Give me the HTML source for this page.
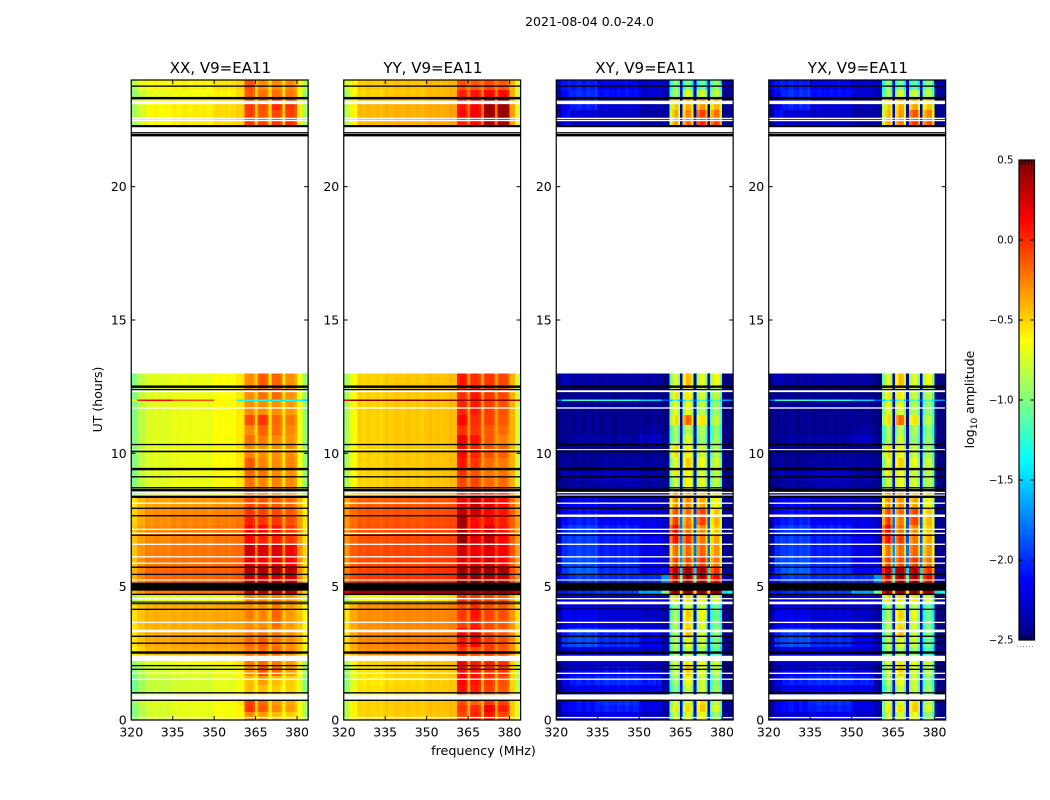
<!DOCTYPE html>
<html lang="en">
<head>
<meta charset="utf-8">
<title>2021-08-04 0.0-24.0</title>
<style>
html,body{margin:0;padding:0;background:#fff;width:1050px;height:800px;overflow:hidden}
svg{display:block;font-family:"DejaVu Sans","Liberation Sans",sans-serif;fill:#000}
</style>
</head>
<body>
<svg id="chart" xmlns="http://www.w3.org/2000/svg" width="1050" height="800" viewBox="0 0 1050 800">
  <rect x="0" y="0" width="1050" height="800" fill="#fff"/>
  <text x="589.5" y="26" font-size="12.5" text-anchor="middle">2021-08-04 0.0-24.0</text>
  <text x="0" y="0" font-size="12.5" text-anchor="middle" transform="translate(102,399.5) rotate(-90)">UT (hours)</text>
  <text x="483.5" y="755" font-size="12.7" text-anchor="middle">frequency (MHz)</text>
  <text x="0" y="0" font-size="12.5" text-anchor="middle" transform="translate(974,399.5) rotate(-90)">log<tspan font-size="9" dy="3">10</tspan><tspan dy="-3"> amplitude</tspan></text>
  <g id="panels"></g>
  <g id="colorbar"></g>
</svg>
<script>
// ---- axis data ----
const panelTitles = ["XX, V9=EA11", "YY, V9=EA11", "XY, V9=EA11", "YX, V9=EA11"];
const xTicks = [320, 335, 350, 365, 380];
const yTicks = [0, 5, 10, 15, 20];
const colorbarTicks = [-2.5, -2.0, -1.5, -1.0, -0.5, 0.0, 0.5];
const colorbarLabels = ["\u22122.5", "\u22122.0", "\u22121.5", "\u22121.0", "\u22120.5", "0.0", "0.5"];
// column edges (MHz)
const freqEdges = [320, 322, 325, 335, 350, 358, 361, 364.7, 365.7, 369.7, 370.7, 374.7, 375.7, 380, 382, 384];
// row edges (UT hours)
const timeEdges = [0, .30, .56, .94, 1.31, 1.65, 2.06, 2.44, 2.74, 3.07, 3.45, 3.82, 4.16, 4.39, 4.69, 5.14, 5.44, 5.74, 6.15, 6.56, 6.94, 7.31, 7.61, 7.95, 8.36, 8.62, 9.07, 9.45, 9.82, 10.31, 10.69, 11.06, 11.44, 11.96, 12.02, 12.45, 13, 22.3, 22.57, 22.87, 23.32, 23.62, 24];
// flagged lines: [UT hour, thickness in hours]
const blackFlags = [[23.77,.05],[23.32,.09],[22.27,.08],[22.02,.05],[21.93,.09],[12.5,.09],[12.39,.05],[10.33,.05],[10.07,.06],[9.41,.09],[9.12,.05],[8.71,.05],[8.62,.09],[8.37,.09],[7.94,.05],[6.93,.05],[5.73,.05],[5.46,.05],[5,.3],[4.71,.05],[4.15,.05],[3.14,.05],[2.88,.05],[2.53,.09],[2.04,.05],[1.9,.05],[1.02,.05],[.74,.05]];
const parallelBlackFlags = [[7.66,.05],[4.42,.04],[4.36,.04]];
const whiteFlags = [[23.16,.13],[22.56,.05],[22.48,.05],[12.335,.08],[11.7,.05],[10.14,.04],[8.53,.05],[8.43,.05],[8.13,.05],[7.15,.05],[7.0,.05],[6.59,.05],[6.12,.05],[5.88,.05],[5.25,.04],[4.55,.05],[3.66,.05],[3.34,.1],[2.31,.2],[1.75,.05],[1.53,.05],[.86,.2],[.09,.05]];
const crossWhiteFlags = [[7.66,.09],[4.39,.1]];

// ---- per-channel (1 MHz) bandpass offsets, channels 320..383 ----
const parallelBandpass = [0,0,0,.01,-.02,.02,0,-.02,.02,.02,-.01,0,.02,-.02,.01,.02,-.01,-.02,.01,.02,0,-.02,.01,.02,0,-.01,.02,0,-.02,.01,0,.02,-.01,0,.01,-.02,.01,0,.01,-.01,0,0,.03,.03,-.06,-.06,.02,.03,.02,-.06,-.06,.02,.03,.02,-.06,-.06,.02,.03,.02,-.06,0,0,0,0];
const crossBandpass = [-.1,-.05,-.1,-.14,-.06,-.1,-.14,-.08,-.05,-.12,-.14,-.06,-.1,-.12,-.04,-.1,-.14,-.08,-.06,-.12,-.1,-.14,-.06,-.1,-.12,-.04,-.1,-.14,-.08,-.1,-.06,-.12,-.14,-.08,-.1,-.06,-.12,-.1,-.08,-.1,-.1,-.35,-.05,.05,-.3,-.3,-.1,.1,.05,-.3,-.3,-.1,.05,.05,-.3,-.3,-.1,.05,.05,-.3,-.05,-.05,-.05,-.05];
const panelBandpass = [parallelBandpass, parallelBandpass, crossBandpass, crossBandpass];

// ---- log10 amplitude: rows bottom to top, one value per frequency column ----
const xxValues = [
[-1,-.85,-.75,-.7,-.65,-.6,-.3,-.5,-.35,-.55,-.45,-.55,-.5,-.65,-.9],
[-1,-.85,-.75,-.7,-.65,-.6,-.05,-.45,-.15,-.5,-.3,-.55,-.35,-.65,-.9],
[-.95,-.8,-.72,-.68,-.62,-.55,-.08,-.45,-.2,-.5,-.35,-.5,-.4,-.6,-.85],
[-1.05,-.9,-.8,-.75,-.7,-.65,-.45,-.55,-.45,-.6,-.5,-.6,-.5,-.7,-1],
[-1.05,-.9,-.8,-.75,-.7,-.65,-.45,-.55,-.35,-.6,-.45,-.6,-.5,-.7,-1],
[-1,-.85,-.75,-.72,-.68,-.6,-.3,-.5,-.12,-.55,-.2,-.55,-.35,-.65,-.95],
[-.95,-.8,-.7,-.65,-.6,-.55,-.25,-.45,-.2,-.5,-.25,-.5,-.35,-.6,-.9],
[-.6,-.5,-.42,-.4,-.38,-.35,-.25,-.35,-.2,-.38,-.2,-.38,-.3,-.45,-.7],
[-.55,-.45,-.38,-.35,-.33,-.32,-.2,-.3,-.15,-.35,-.25,-.35,-.3,-.42,-.65],
[-.55,-.45,-.38,-.36,-.35,-.33,-.25,-.3,-.22,-.35,-.25,-.35,-.32,-.42,-.65],
[-.55,-.45,-.4,-.38,-.36,-.35,-.3,-.35,-.3,-.38,-.22,-.38,-.35,-.45,-.65],
[-.55,-.45,-.4,-.38,-.36,-.35,-.25,-.35,-.28,-.4,-.18,-.4,-.35,-.45,-.65],
[-.55,-.45,-.4,-.38,-.36,-.35,-.32,-.38,-.32,-.4,-.25,-.4,-.35,-.45,-.65],
[-.85,-.75,-.7,-.68,-.62,-.55,-.3,-.4,-.3,-.42,-.3,-.42,-.35,-.5,-.75],
[-.4,-.3,-.22,-.2,-.18,-.15,.32,-.25,.3,-.25,.3,-.25,.32,-.3,-.5],
[-.4,-.28,-.2,-.18,-.16,-.12,.28,-.2,.25,-.2,.25,-.2,.25,-.28,-.5],
[-.4,-.28,-.18,-.16,-.15,-.12,.35,-.2,.36,-.2,.36,-.2,.32,-.28,-.5],
[-.45,-.3,-.22,-.2,-.18,-.15,.18,-.2,.12,-.22,.15,-.22,.1,-.3,-.5],
[-.45,-.32,-.25,-.22,-.2,-.18,.25,-.2,.22,-.22,.2,-.22,.12,-.3,-.5],
[-.45,-.34,-.28,-.25,-.22,-.2,.1,-.22,.02,-.25,.02,-.25,-.05,-.32,-.55],
[-.45,-.34,-.28,-.25,-.22,-.2,.1,-.22,.08,-.25,.05,-.25,-.05,-.32,-.55],
[-.5,-.38,-.3,-.27,-.25,-.22,.02,-.25,-.05,-.28,-.05,-.28,-.12,-.35,-.55],
[-.5,-.38,-.3,-.28,-.26,-.24,-.05,-.28,-.08,-.3,-.1,-.3,-.15,-.38,-.6],
[-.55,-.42,-.36,-.33,-.3,-.28,-.1,-.3,-.12,-.32,-.15,-.32,-.2,-.4,-.6],
[-.95,-.8,-.72,-.68,-.62,-.55,-.2,-.45,-.25,-.5,-.3,-.5,-.35,-.65,-.95],
[-1,-.82,-.72,-.68,-.62,-.55,-.22,-.45,-.28,-.5,-.28,-.5,-.3,-.65,-.95],
[-1,-.82,-.72,-.68,-.62,-.55,-.2,-.45,-.22,-.5,-.3,-.5,-.32,-.65,-.95],
[-1,-.82,-.72,-.68,-.63,-.56,-.15,-.45,-.28,-.5,-.3,-.5,-.28,-.65,-.95],
[-1,-.82,-.72,-.68,-.63,-.56,-.28,-.45,-.32,-.5,-.32,-.5,-.3,-.65,-.95],
[-1,-.82,-.72,-.68,-.63,-.56,-.22,-.45,-.25,-.5,-.3,-.5,-.32,-.65,-.95],
[-1,-.82,-.72,-.68,-.63,-.56,-.3,-.45,-.18,-.5,-.22,-.5,-.3,-.65,-.95],
[-1,-.82,-.72,-.68,-.63,-.56,-.12,-.45,-.05,-.5,-.2,-.5,-.25,-.65,-.95],
[-1,-.82,-.72,-.68,-.63,-.56,-.3,-.45,-.3,-.5,-.32,-.5,-.35,-.65,-.95],
[-.7,.05,.12,-.1,-.6,-1.3,-1.35,-1.3,-1.35,-1.4,-1.35,-1.4,-1.35,-1.35,-1.5],
[-1,-.82,-.72,-.68,-.63,-.56,-.3,-.45,-.22,-.5,-.2,-.5,-.32,-.65,-.95],
[-1,-.82,-.72,-.68,-.63,-.56,-.3,-.45,-.15,-.5,-.18,-.5,-.32,-.65,-.95],
[],
[-.9,-.75,-.62,-.58,-.52,-.48,-.05,-.42,-.08,-.45,-.05,-.45,-.02,-.58,-.9],
[-.9,-.75,-.62,-.58,-.52,-.48,-.08,-.42,-.15,-.45,-.1,-.45,-.08,-.58,-.9],
[-.9,-.75,-.62,-.58,-.52,-.48,-.05,-.42,-.12,-.45,-.02,-.45,-.05,-.58,-.9],
[-.95,-.8,-.7,-.66,-.6,-.52,-.15,-.45,-.22,-.48,-.22,-.48,-.25,-.62,-.95],
[-.85,-.7,-.62,-.6,-.55,-.5,-.12,-.45,-.3,-.48,-.3,-.48,-.3,-.58,-.85]
];
const yyValues = [
[-.85,-.6,-.5,-.48,-.45,-.42,-.1,-.3,0,-.35,.05,-.35,-.1,-.48,-.7],
[-.85,-.6,-.5,-.47,-.44,-.42,-.05,-.3,-.02,-.32,.15,-.32,.02,-.48,-.7],
[-.85,-.6,-.5,-.47,-.44,-.42,-.12,-.3,-.18,-.32,-.05,-.32,-.08,-.48,-.7],
[-.95,-.7,-.55,-.5,-.47,-.45,.08,-.3,.02,-.35,-.08,-.35,-.15,-.5,-.8],
[-1,-.72,-.57,-.52,-.48,-.45,.12,-.3,.05,-.35,-.05,-.35,-.12,-.5,-.85],
[-.95,-.7,-.55,-.5,-.47,-.45,.08,-.3,.05,-.35,-.02,-.35,-.05,-.5,-.8],
[-.85,-.62,-.5,-.47,-.45,-.43,.12,-.3,.02,-.32,.02,-.32,-.05,-.48,-.75],
[-.55,-.4,-.3,-.28,-.26,-.25,-.05,-.2,-.12,-.22,-.08,-.22,-.15,-.3,-.55],
[-.55,-.38,-.28,-.26,-.25,-.24,.05,-.15,.1,-.2,-.05,-.2,-.12,-.3,-.55],
[-.55,-.38,-.28,-.26,-.25,-.24,.12,-.15,.18,-.2,-.08,-.2,-.15,-.3,-.55],
[-.55,-.38,-.3,-.28,-.27,-.25,-.08,-.2,.02,-.22,-.1,-.22,-.15,-.32,-.55],
[-.55,-.38,-.3,-.28,-.27,-.25,-.05,-.2,.06,-.22,-.08,-.22,-.12,-.32,-.55],
[-.55,-.4,-.3,-.28,-.27,-.25,-.12,-.2,-.02,-.22,-.12,-.22,-.15,-.32,-.55],
[-.85,-.7,-.62,-.6,-.55,-.5,-.05,-.22,-.05,-.25,-.1,-.25,-.15,-.4,-.7],
[.2,.38,.42,.42,.42,.42,.45,.4,.45,.4,.45,.4,.45,.4,.3],
[-.2,-.1,-.05,-.03,-.02,0,.38,.05,.42,.05,.38,.05,.3,-.1,-.3],
[-.25,-.12,-.08,-.05,-.02,0,.4,.05,.42,.05,.42,.05,.38,-.1,-.3],
[-.3,-.15,-.1,-.08,-.06,-.04,.2,0,.18,.02,.25,.02,.1,-.12,-.35],
[-.3,-.15,-.1,-.08,-.06,-.04,.25,0,.15,.02,.2,.02,.12,-.12,-.35],
[-.3,-.18,-.12,-.1,-.08,-.06,.42,.02,.2,.02,.3,.02,.1,-.15,-.35],
[-.3,-.18,-.12,-.1,-.08,-.06,.35,.02,.1,.02,.22,.02,.05,-.15,-.35],
[-.32,-.2,-.14,-.12,-.1,-.08,.38,0,.08,0,.08,0,.02,-.15,-.35],
[-.32,-.2,-.14,-.12,-.1,-.08,.3,0,.25,0,.12,0,.05,-.15,-.38],
[-.35,-.22,-.16,-.14,-.12,-.1,.15,0,.28,-.02,.18,-.02,.08,-.18,-.38],
[-.7,-.55,-.45,-.42,-.4,-.38,.05,-.12,.05,-.15,.02,-.15,.0,-.35,-.6],
[-.9,-.65,-.5,-.47,-.45,-.42,-.1,-.25,-.1,-.28,-.2,-.28,-.2,-.4,-.75],
[-.9,-.65,-.5,-.47,-.45,-.42,-.03,-.25,-.13,-.28,-.23,-.28,-.23,-.4,-.75],
[-.9,-.65,-.5,-.47,-.45,-.42,.05,-.25,-.05,-.28,-.2,-.28,-.25,-.4,-.75],
[-.9,-.65,-.5,-.47,-.45,-.42,.1,-.25,0,-.28,-.13,-.28,-.17,-.4,-.75],
[-.9,-.65,-.5,-.47,-.45,-.42,.15,-.25,.05,-.28,-.15,-.28,-.27,-.4,-.75],
[-.9,-.65,-.5,-.47,-.45,-.42,-.03,-.25,-.05,-.28,-.15,-.28,-.2,-.4,-.75],
[-.9,-.65,-.5,-.47,-.45,-.42,.1,-.25,-.03,-.28,-.07,-.28,-.15,-.4,-.75],
[-.9,-.65,-.5,-.47,-.45,-.42,0,-.25,.03,-.28,-.07,-.28,-.13,-.4,-.75],
[.2,.42,.45,.45,.45,.45,.45,.45,.45,.45,.45,.45,.45,.45,.3],
[-.9,-.65,-.5,-.47,-.45,-.42,-.03,-.25,.05,-.28,-.05,-.28,-.1,-.4,-.75],
[-.9,-.65,-.5,-.47,-.45,-.42,.05,-.25,-.03,-.28,-.05,-.28,-.1,-.4,-.75],
[],
[-.85,-.6,-.42,-.4,-.38,-.35,.02,-.15,.1,-.15,.35,-.15,.35,-.35,-.7],
[-.85,-.6,-.42,-.4,-.38,-.35,.1,-.15,.15,-.15,.4,-.15,.42,-.35,-.7],
[-.85,-.6,-.42,-.4,-.38,-.35,.05,-.15,.12,-.15,.38,-.15,.4,-.35,-.7],
[-.9,-.65,-.5,-.46,-.42,-.4,.02,-.18,.05,-.18,.1,-.18,.08,-.4,-.75],
[-.75,-.6,-.48,-.45,-.42,-.4,-.12,-.2,-.15,-.2,-.1,-.2,-.15,-.4,-.7]
];
const xyValues = [
[-2.35,-2.2,-2.15,-2.1,-2.2,-2.3,-.75,-1.85,-.8,-1.95,-.7,-1.9,-.95,-2.4,-2.4],
[-2.35,-2.05,-2.0,-1.95,-2.1,-2.25,-.6,-1.85,-.6,-1.95,-.5,-1.9,-.75,-2.4,-2.4],
[-2.35,-2.1,-2.0,-1.9,-2.1,-2.25,-.7,-1.85,-.8,-1.95,-.55,-1.9,-.85,-2.4,-2.4],
[-2.4,-2.2,-2.1,-2.05,-2.1,-2.3,-.95,-1.9,-.85,-2.0,-.8,-1.95,-.95,-2.45,-2.45],
[-2.4,-2.1,-1.95,-1.9,-1.95,-2.3,-.85,-1.9,-.7,-2.0,-.8,-1.95,-1.0,-2.45,-2.45],
[-2.4,-2.15,-2.05,-2.0,-2.1,-2.3,-.75,-1.9,-.55,-2.0,-.75,-1.95,-.85,-2.45,-2.45],
[-2.4,-2.2,-2.15,-2.15,-2.2,-2.3,-.7,-1.9,-.65,-2.0,-.7,-1.95,-.8,-2.45,-2.45],
[-2.4,-2.2,-2.15,-2.15,-2.2,-2.3,-.85,-1.9,-.9,-2.0,-.95,-1.95,-1.15,-2.45,-2.45],
[-2.3,-1.85,-1.8,-1.9,-2.05,-2.25,-.8,-1.85,-.75,-1.95,-.8,-1.9,-1.05,-2.45,-2.45],
[-2.3,-1.95,-1.85,-1.95,-2.05,-2.25,-.85,-1.85,-.5,-1.95,-.8,-1.9,-1.0,-2.45,-2.45],
[-2.35,-2.1,-2.05,-2.15,-2.2,-2.3,-.8,-1.9,-.6,-2.0,-.75,-1.9,-1.05,-2.45,-2.45],
[-2.35,-2.05,-2.1,-2.15,-2.2,-2.3,-.85,-1.9,-.55,-2.0,-.7,-1.9,-1.1,-2.45,-2.45],
[-2.35,-2.1,-2.15,-2.2,-2.2,-2.3,-.9,-1.9,-.85,-2.0,-.85,-1.9,-1.1,-2.45,-2.45],
[-2.3,-2.1,-2.1,-2.15,-2.1,-2.2,-.55,-1.8,-.6,-1.9,-.6,-1.85,-.75,-2.4,-2.4],
[-2.0,-1.95,-1.9,-1.85,-1.55,-.95,.5,-.3,.5,-.3,.5,-.3,.5,-1.4,-1.3],
[-2.05,-1.95,-1.85,-1.9,-1.9,-1.6,.25,-.8,.35,-.85,.35,-.9,.1,-2.3,-2.4],
[-2.2,-1.85,-1.75,-1.9,-2.05,-2.0,.35,-1.2,.37,-1.2,.35,-1.2,-.05,-2.4,-2.4],
[-2.3,-1.8,-1.8,-1.9,-2.05,-2.15,-.05,-1.4,-.15,-1.5,-.05,-1.5,-.25,-2.4,-2.4],
[-2.3,-1.9,-1.85,-1.95,-2.1,-2.2,-.2,-1.4,-.25,-1.5,-.2,-1.5,-.35,-2.4,-2.4],
[-2.3,-1.85,-1.85,-1.95,-2.05,-2.2,.1,-1.5,-.1,-1.6,-.25,-1.6,-.4,-2.4,-2.4],
[-2.3,-1.9,-1.85,-1.95,-2.05,-2.2,.15,-1.5,-.25,-1.6,-.3,-1.6,-.5,-2.4,-2.4],
[-2.3,-2.0,-1.95,-2.05,-2.1,-2.2,-.05,-1.5,-.3,-1.6,-.1,-1.6,-.45,-2.4,-2.4],
[-2.3,-2.05,-2.0,-2.1,-2.15,-2.25,-.1,-1.6,-.25,-1.7,-.1,-1.7,-.5,-2.4,-2.4],
[-2.3,-2.1,-2.05,-2.15,-2.2,-2.3,-.3,-1.7,-.35,-1.8,-.4,-1.8,-.65,-2.4,-2.4],
[-2.4,-2.35,-2.3,-2.3,-2.3,-2.35,-.3,-1.9,-.45,-1.95,-.5,-1.95,-.55,-2.45,-2.45],
[-2.4,-2.35,-2.3,-2.25,-2.3,-2.35,-.75,-2.05,-.7,-2.1,-.75,-2.05,-.85,-2.45,-2.45],
[-2.4,-2.2,-2.25,-2.2,-2.3,-2.35,-.6,-2.05,-.7,-2.1,-.8,-2.05,-.85,-2.45,-2.45],
[-2.4,-2.3,-2.35,-2.3,-2.3,-2.35,-.7,-2.05,-.55,-2.1,-.7,-2.05,-.8,-2.45,-2.45],
[-2.4,-2.35,-2.35,-2.35,-2.35,-2.4,-.55,-2.05,-.7,-2.1,-.8,-2.05,-.9,-2.45,-2.45],
[-2.4,-2.35,-2.3,-2.3,-2.2,-2.35,-.85,-2.05,-.8,-2.1,-.95,-2.05,-.95,-2.45,-2.45],
[-2.4,-2.35,-2.35,-2.35,-2.3,-2.4,-.85,-2.05,-.9,-2.1,-.9,-2.05,-1.0,-2.45,-2.45],
[-2.4,-2.35,-2.35,-2.35,-2.35,-2.4,-.55,-2.05,-.25,-2.1,-.6,-2.05,-.85,-2.45,-2.45],
[-2.4,-2.35,-2.35,-2.35,-2.35,-2.4,-.65,-2.05,-.75,-2.1,-.85,-2.05,-.95,-2.45,-2.45],
[-1.8,-1.2,-1.1,-1.2,-1.4,-1.8,-1.2,-1.6,-1.2,-1.6,-1.2,-1.6,-1.2,-1.6,-1.7],
[-2.4,-2.35,-2.35,-2.35,-2.35,-2.4,-.6,-2.05,-.65,-2.1,-.8,-2.05,-.85,-2.45,-2.45],
[-2.4,-2.2,-2.3,-2.3,-2.3,-2.4,-.7,-2.05,-.5,-2.1,-.75,-2.05,-.7,-2.45,-2.45],
[],
[-2.35,-2.1,-2.2,-2.2,-2.3,-2.3,-.35,-2.0,-.25,-2.05,.0,-2.05,-.1,-2.4,-2.4],
[-2.35,-2.0,-2.15,-2.2,-2.3,-2.3,-.4,-2.0,-.35,-2.05,-.1,-2.05,-.25,-2.4,-2.4],
[-2.35,-2.1,-1.95,-2.15,-2.25,-2.3,-.5,-2.0,-.45,-2.05,-.35,-2.05,-.45,-2.4,-2.4],
[-2.3,-2.0,-1.9,-2.0,-2.15,-2.25,-.85,-2.0,-.8,-2.05,-.8,-2.05,-.85,-2.4,-2.4],
[-2.1,-1.95,-1.95,-2.05,-2.15,-2.2,-.95,-1.9,-1.1,-1.95,-1.15,-1.95,-1.0,-2.3,-2.3]
];
const yxValues = [
[-2.35,-2.2,-2.15,-2.1,-2.2,-2.3,-.75,-1.85,-.8,-1.95,-.7,-1.9,-.95,-2.4,-2.4],
[-2.35,-2.05,-2.0,-1.95,-2.1,-2.25,-.6,-1.85,-.6,-1.95,-.5,-1.9,-.75,-2.4,-2.4],
[-2.35,-2.1,-2.0,-1.9,-2.1,-2.25,-.7,-1.85,-.8,-1.95,-.55,-1.9,-.85,-2.4,-2.4],
[-2.4,-2.2,-2.1,-2.05,-2.1,-2.3,-.95,-1.9,-.85,-2.0,-.8,-1.95,-.95,-2.45,-2.45],
[-2.4,-2.1,-1.95,-1.9,-1.95,-2.3,-.85,-1.9,-.7,-2.0,-.8,-1.95,-1.0,-2.45,-2.45],
[-2.4,-2.15,-2.05,-2.0,-2.1,-2.3,-.75,-1.9,-.55,-2.0,-.75,-1.95,-.85,-2.45,-2.45],
[-2.4,-2.2,-2.15,-2.15,-2.2,-2.3,-.7,-1.9,-.65,-2.0,-.7,-1.95,-.8,-2.45,-2.45],
[-2.4,-2.2,-2.15,-2.15,-2.2,-2.3,-.85,-1.9,-.9,-2.0,-.95,-1.95,-1.15,-2.45,-2.45],
[-2.3,-1.85,-1.8,-1.9,-2.05,-2.25,-.8,-1.85,-.75,-1.95,-.8,-1.9,-1.05,-2.45,-2.45],
[-2.3,-1.95,-1.85,-1.95,-2.05,-2.25,-.85,-1.85,-.5,-1.95,-.8,-1.9,-1.0,-2.45,-2.45],
[-2.35,-2.1,-2.05,-2.15,-2.2,-2.3,-.8,-1.9,-.6,-2.0,-.75,-1.9,-1.05,-2.45,-2.45],
[-2.35,-2.05,-2.1,-2.15,-2.2,-2.3,-.85,-1.9,-.55,-2.0,-.7,-1.9,-1.1,-2.45,-2.45],
[-2.35,-2.1,-2.15,-2.2,-2.2,-2.3,-.9,-1.9,-.85,-2.0,-.85,-1.9,-1.1,-2.45,-2.45],
[-2.3,-2.1,-2.1,-2.15,-2.1,-2.2,-.55,-1.8,-.6,-1.9,-.6,-1.85,-.75,-2.4,-2.4],
[-2.0,-1.95,-1.9,-1.85,-1.55,-.95,.5,-.3,.5,-.3,.5,-.3,.5,-1.4,-1.3],
[-2.05,-1.95,-1.85,-1.9,-1.9,-1.6,.25,-.8,.35,-.85,.35,-.9,.1,-2.3,-2.4],
[-2.2,-1.85,-1.75,-1.9,-2.05,-2.0,.35,-1.2,.37,-1.2,.35,-1.2,-.05,-2.4,-2.4],
[-2.3,-1.8,-1.8,-1.9,-2.05,-2.15,-.05,-1.4,-.15,-1.5,-.05,-1.5,-.25,-2.4,-2.4],
[-2.3,-1.9,-1.85,-1.95,-2.1,-2.2,-.2,-1.4,-.25,-1.5,-.2,-1.5,-.35,-2.4,-2.4],
[-2.3,-1.85,-1.85,-1.95,-2.05,-2.2,.1,-1.5,-.1,-1.6,-.25,-1.6,-.4,-2.4,-2.4],
[-2.3,-1.9,-1.85,-1.95,-2.05,-2.2,.15,-1.5,-.25,-1.6,-.3,-1.6,-.5,-2.4,-2.4],
[-2.3,-2.0,-1.95,-2.05,-2.1,-2.2,-.05,-1.5,-.3,-1.6,-.1,-1.6,-.45,-2.4,-2.4],
[-2.3,-2.05,-2.0,-2.1,-2.15,-2.25,-.1,-1.6,-.25,-1.7,-.1,-1.7,-.5,-2.4,-2.4],
[-2.3,-2.1,-2.05,-2.15,-2.2,-2.3,-.3,-1.7,-.35,-1.8,-.4,-1.8,-.65,-2.4,-2.4],
[-2.4,-2.35,-2.3,-2.3,-2.3,-2.35,-.3,-1.9,-.45,-1.95,-.5,-1.95,-.55,-2.45,-2.45],
[-2.4,-2.35,-2.3,-2.25,-2.3,-2.35,-.75,-2.05,-.7,-2.1,-.75,-2.05,-.85,-2.45,-2.45],
[-2.4,-2.2,-2.25,-2.2,-2.3,-2.35,-.6,-2.05,-.7,-2.1,-.8,-2.05,-.85,-2.45,-2.45],
[-2.4,-2.3,-2.35,-2.3,-2.3,-2.35,-.7,-2.05,-.55,-2.1,-.7,-2.05,-.8,-2.45,-2.45],
[-2.4,-2.35,-2.35,-2.35,-2.35,-2.4,-.55,-2.05,-.7,-2.1,-.8,-2.05,-.9,-2.45,-2.45],
[-2.4,-2.35,-2.3,-2.3,-2.2,-2.35,-.85,-2.05,-.8,-2.1,-.95,-2.05,-.95,-2.45,-2.45],
[-2.4,-2.35,-2.35,-2.35,-2.3,-2.4,-.85,-2.05,-.9,-2.1,-.9,-2.05,-1.0,-2.45,-2.45],
[-2.4,-2.35,-2.35,-2.35,-2.35,-2.4,-.55,-2.05,-.25,-2.1,-.6,-2.05,-.85,-2.45,-2.45],
[-2.4,-2.35,-2.35,-2.35,-2.35,-2.4,-.65,-2.05,-.75,-2.1,-.85,-2.05,-.95,-2.45,-2.45],
[-1.8,-1.2,-1.1,-1.2,-1.4,-1.8,-1.2,-1.6,-1.2,-1.6,-1.2,-1.6,-1.2,-1.6,-1.7],
[-2.4,-2.35,-2.35,-2.35,-2.35,-2.4,-.6,-2.05,-.65,-2.1,-.8,-2.05,-.85,-2.45,-2.45],
[-2.4,-2.2,-2.3,-2.3,-2.3,-2.4,-.7,-2.05,-.5,-2.1,-.75,-2.05,-.7,-2.45,-2.45],
[],
[-2.35,-2.1,-2.2,-2.2,-2.3,-2.3,-.4,-2.0,-.3,-2.05,-.05,-2.05,-.15,-2.4,-2.4],
[-2.35,-2.0,-2.15,-2.2,-2.3,-2.3,-.45,-2.0,-.4,-2.05,-.15,-2.05,-.3,-2.4,-2.4],
[-2.35,-2.1,-1.95,-2.15,-2.25,-2.3,-.5,-2.0,-.45,-2.05,-.4,-2.05,-.5,-2.4,-2.4],
[-2.3,-2.0,-1.9,-2.0,-2.15,-2.25,-.85,-2.0,-.8,-2.05,-.8,-2.05,-.85,-2.4,-2.4],
[-2.1,-1.95,-1.95,-2.05,-2.15,-2.2,-.95,-1.9,-1.1,-1.95,-1.15,-1.95,-1.0,-2.3,-2.3]
];
const panelValues = [xxValues, yyValues, xyValues, yxValues];

// ---- layout ----
const NS = "http://www.w3.org/2000/svg";
const panelLefts = [131.25, 343.75, 556.25, 768.75];
const panelWidth = 176.9, plotTop = 80, plotBottom = 720;
const freqMin = 320, freqMax = 384, timeMin = 0, timeMax = 24;
const cbLeft = 1019, cbRight = 1034.5, cbTop = 160, cbBottom = 640, cbMin = -2.5, cbMax = 0.5;

function xScale(left, f) { return left + (f - freqMin) / (freqMax - freqMin) * panelWidth; }
function yScale(h) { return plotBottom - (h - timeMin) / (timeMax - timeMin) * (plotBottom - plotTop); }
function cbScale(v) { return cbBottom - (v - cbMin) / (cbMax - cbMin) * (cbBottom - cbTop); }
function jet(v) {
  const t = Math.max(0, Math.min(1, (v - cbMin) / (cbMax - cbMin)));
  const ch = (c) => Math.round(255 * Math.max(0, Math.min(1, 1.5 - Math.abs(4 * t - c))));
  return "rgb(" + ch(3) + "," + ch(2) + "," + ch(1) + ")";
}
function addRect(parent, x, y, w, h, fill, crisp) {
  const el = document.createElementNS(NS, "rect");
  el.setAttribute("x", x);
  el.setAttribute("y", y);
  el.setAttribute("width", w);
  el.setAttribute("height", h);
  el.setAttribute("fill", fill);
  if (crisp) el.setAttribute("shape-rendering", "crispEdges");
  parent.appendChild(el);
  return el;
}
function addLine(parent, x1, y1, x2, y2, stroke, sw) {
  const el = document.createElementNS(NS, "line");
  el.setAttribute("x1", x1);
  el.setAttribute("y1", y1);
  el.setAttribute("x2", x2);
  el.setAttribute("y2", y2);
  el.setAttribute("stroke", stroke);
  el.setAttribute("stroke-width", sw);
  parent.appendChild(el);
  return el;
}
function addText(parent, x, y, size, anchor, str) {
  const el = document.createElementNS(NS, "text");
  el.setAttribute("x", x);
  el.setAttribute("y", y);
  el.setAttribute("font-size", size);
  el.setAttribute("text-anchor", anchor);
  el.textContent = str;
  parent.appendChild(el);
  return el;
}

// ---- panels ----
const panelsRoot = document.getElementById("panels");
panelTitles.forEach(function (title, p) {
  const left = panelLefts[p];
  const right = left + panelWidth;
  const values = panelValues[p];
  const bandpass = panelBandpass[p];
  const g = document.createElementNS(NS, "g");
  
  
  panelsRoot.appendChild(g);

  values.forEach(function (row, r) {
    const y1 = yScale(timeEdges[r]);
    const y0 = yScale(timeEdges[r + 1]);
    row.forEach(function (v, c) {
      let f = freqEdges[c];
      const fEnd = freqEdges[c + 1];
      while (f < fEnd) {
        const next = Math.min(Math.floor(f) + 1, fEnd);
        const channel = Math.floor(f) - freqMin;
        const x0 = xScale(left, f);
        const x1 = xScale(left, next);
        const cell = addRect(g, x0, y0, x1 - x0, y1 - y0, jet(v + bandpass[channel]), true);
        
        
        f = next;
      }
    });
  });

  const isParallel = p < 2;
  const whites = isParallel ? whiteFlags : whiteFlags.concat(crossWhiteFlags);
  const blacks = isParallel ? blackFlags.concat(parallelBlackFlags) : blackFlags;
  whites.forEach(function (f) {
    const y0 = yScale(f[0] + f[1] / 2);
    const y1 = yScale(f[0] - f[1] / 2);
    const band = addRect(g, left, y0, panelWidth, y1 - y0, "#fff", false);
    
    
  });
  blacks.forEach(function (f) {
    const y0 = yScale(f[0] + f[1] / 2);
    const y1 = yScale(f[0] - f[1] / 2);
    const band = addRect(g, left, y0, panelWidth, y1 - y0, "#000", false);
    
    
  });

  xTicks.forEach(function (t) {
    const x = xScale(left, t);
    if (t !== freqMin) {
      const a = addLine(g, x, plotBottom, x, plotBottom - 4, "#000", 1);
      
      
      const b = addLine(g, x, plotTop, x, plotTop + 4, "#000", 1);
      
      
    }
    const label = addText(g, x, 736.5, 12.5, "middle", String(t));
    
    
  });
  yTicks.forEach(function (t) {
    const y = yScale(t);
    if (t !== timeMin) {
      const a = addLine(g, left, y, left + 4, y, "#000", 1);
      
      
      const b = addLine(g, right, y, right - 4, y, "#000", 1);
      
      
    }
    const label = addText(g, left - 4.5, y + 4.5, 12.5, "end", String(t));
    
    
  });

  const frame = addRect(g, left, plotTop, panelWidth, plotBottom - plotTop, "none", false);
  frame.setAttribute("stroke", "#000");
  frame.setAttribute("stroke-width", "1.2");
  
  

  const ttl = addText(g, left + panelWidth / 2 + 0.7, 73, 15, "middle", title);
  
  
});

// ---- colorbar ----
const cb = document.getElementById("colorbar");
const cbSteps = 240;
for (let i = 0; i < cbSteps; i++) {
  const v0 = cbMin + (cbMax - cbMin) * i / cbSteps;
  const v1 = cbMin + (cbMax - cbMin) * (i + 1) / cbSteps;
  const seg = addRect(cb, cbLeft, cbScale(v1), cbRight - cbLeft, cbScale(v0) - cbScale(v1) + 0.5, jet((v0 + v1) / 2), false);
  
  
}
colorbarTicks.forEach(function (t, i) {
  const y = cbScale(t);
  if (i > 0 && i < colorbarTicks.length - 1) {
    const a = addLine(cb, cbLeft, y, cbLeft + 4, y, "#000", 1);
    
    
    const b = addLine(cb, cbRight, y, cbRight - 4, y, "#000", 1);
    
    
  }
  const label = addText(cb, 1013.5, y + 3.6, 10.2, "end", colorbarLabels[i]);
  
  
});
const cbEndTicks = [0.2, 0.4, 0.6, 0.8];
cbEndTicks.forEach(function (frac) {
  const x = cbLeft + (cbRight - cbLeft) * frac;
  const a = addLine(cb, x, cbTop, x, cbTop + 5, "#000", 1);
  
  
  const b = addLine(cb, x, cbBottom, x, cbBottom - 5, "#000", 1);
  
  
});
const cbFrame = addRect(cb, cbLeft, cbTop, cbRight - cbLeft, cbBottom - cbTop, "none", false);
cbFrame.setAttribute("stroke", "#000");
cbFrame.setAttribute("stroke-width", "1.2");


const cbDots = addLine(cb, 1017, 646.5, 1035, 646.5, "#999", 1);
cbDots.setAttribute("stroke-dasharray", "1 2");


</script>
</body>
</html>
